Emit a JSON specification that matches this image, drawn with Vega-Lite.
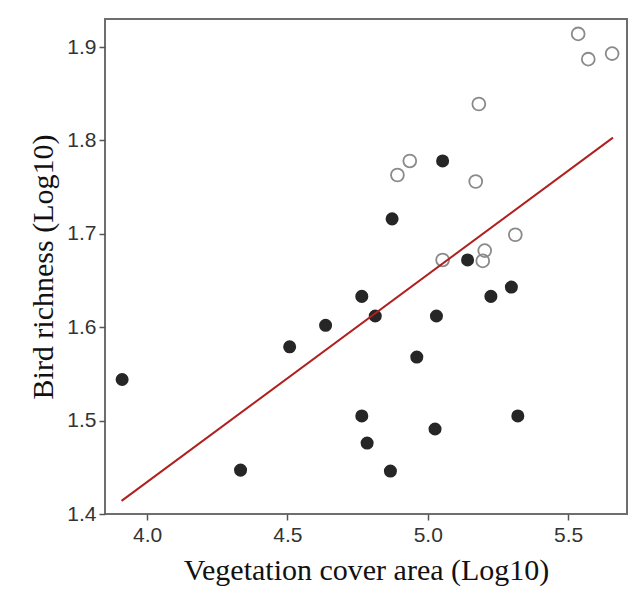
{
  "$schema": "https://vega.github.io/schema/vega-lite/v6.json",
  "width": 522,
  "height": 495,
  "autosize": "none",
  "padding": {"left": 105, "top": 19, "right": 14, "bottom": 86},
  "background": "white",
  "config": {
    "view": {"stroke": "#6e6e6e", "strokeWidth": 2},
    "axis": {
      "grid": false,
      "domain": false,
      "tickColor": "#555555",
      "tickWidth": 1.5,
      "tickSize": 6,
      "labelFont": "Liberation Sans",
      "labelFontSize": 21,
      "labelColor": "#333333",
      "titleFont": "Liberation Serif",
      "titleFontSize": 30,
      "titleFontWeight": "normal",
      "titleColor": "#111111"
    }
  },
  "datasets": {
    "points": [
      {"veg": 3.911, "bird": 1.544, "group": "filled"},
      {"veg": 4.333, "bird": 1.447, "group": "filled"},
      {"veg": 4.508, "bird": 1.579, "group": "filled"},
      {"veg": 4.636, "bird": 1.602, "group": "filled"},
      {"veg": 4.765, "bird": 1.633, "group": "filled"},
      {"veg": 4.813, "bird": 1.612, "group": "filled"},
      {"veg": 4.765, "bird": 1.505, "group": "filled"},
      {"veg": 4.784, "bird": 1.476, "group": "filled"},
      {"veg": 4.867, "bird": 1.446, "group": "filled"},
      {"veg": 4.873, "bird": 1.716, "group": "filled"},
      {"veg": 4.961, "bird": 1.568, "group": "filled"},
      {"veg": 5.026, "bird": 1.491, "group": "filled"},
      {"veg": 5.031, "bird": 1.612, "group": "filled"},
      {"veg": 5.053, "bird": 1.778, "group": "filled"},
      {"veg": 5.142, "bird": 1.672, "group": "filled"},
      {"veg": 5.225, "bird": 1.633, "group": "filled"},
      {"veg": 5.298, "bird": 1.643, "group": "filled"},
      {"veg": 5.321, "bird": 1.505, "group": "filled"},
      {"veg": 4.892, "bird": 1.763, "group": "open"},
      {"veg": 4.936, "bird": 1.778, "group": "open"},
      {"veg": 5.053, "bird": 1.672, "group": "open"},
      {"veg": 5.171, "bird": 1.756, "group": "open"},
      {"veg": 5.182, "bird": 1.839, "group": "open"},
      {"veg": 5.203, "bird": 1.682, "group": "open"},
      {"veg": 5.196, "bird": 1.671, "group": "open"},
      {"veg": 5.312, "bird": 1.699, "group": "open"},
      {"veg": 5.536, "bird": 1.914, "group": "open"},
      {"veg": 5.572, "bird": 1.887, "group": "open"},
      {"veg": 5.657, "bird": 1.893, "group": "open"}
    ],
    "fit": [
      {"veg": 3.909, "bird": 1.414},
      {"veg": 5.660, "bird": 1.803}
    ]
  },
  "layer": [
    {
      "data": {"name": "points"},
      "transform": [{"filter": "datum.group === 'open'"}],
      "mark": {"type": "point", "shape": "circle", "filled": false, "stroke": "#8a8a8a", "strokeWidth": 1.8, "size": 165, "opacity": 1},
      "encoding": {
        "x": {"field": "veg", "type": "quantitative", "scale": {"domain": [3.85, 5.71], "nice": false, "zero": false},
              "axis": {"title": "Vegetation cover area (Log10)", "values": [4.0, 4.5, 5.0, 5.5], "format": ".1f", "labelPadding": 4, "titlePadding": 10}},
        "y": {"field": "bird", "type": "quantitative", "scale": {"domain": [1.4, 1.93], "nice": false, "zero": false},
              "axis": {"title": "Bird richness (Log10)", "values": [1.4, 1.5, 1.6, 1.7, 1.8, 1.9], "format": ".1f", "labelPadding": 3, "titlePadding": 8}}
      }
    },
    {
      "data": {"name": "points"},
      "transform": [{"filter": "datum.group === 'filled'"}],
      "mark": {"type": "circle", "color": "#262626", "size": 170, "opacity": 1},
      "encoding": {
        "x": {"field": "veg", "type": "quantitative"},
        "y": {"field": "bird", "type": "quantitative"}
      }
    },
    {
      "data": {"name": "fit"},
      "mark": {"type": "line", "color": "#b0201f", "strokeWidth": 2},
      "encoding": {
        "x": {"field": "veg", "type": "quantitative"},
        "y": {"field": "bird", "type": "quantitative"}
      }
    }
  ]
}
